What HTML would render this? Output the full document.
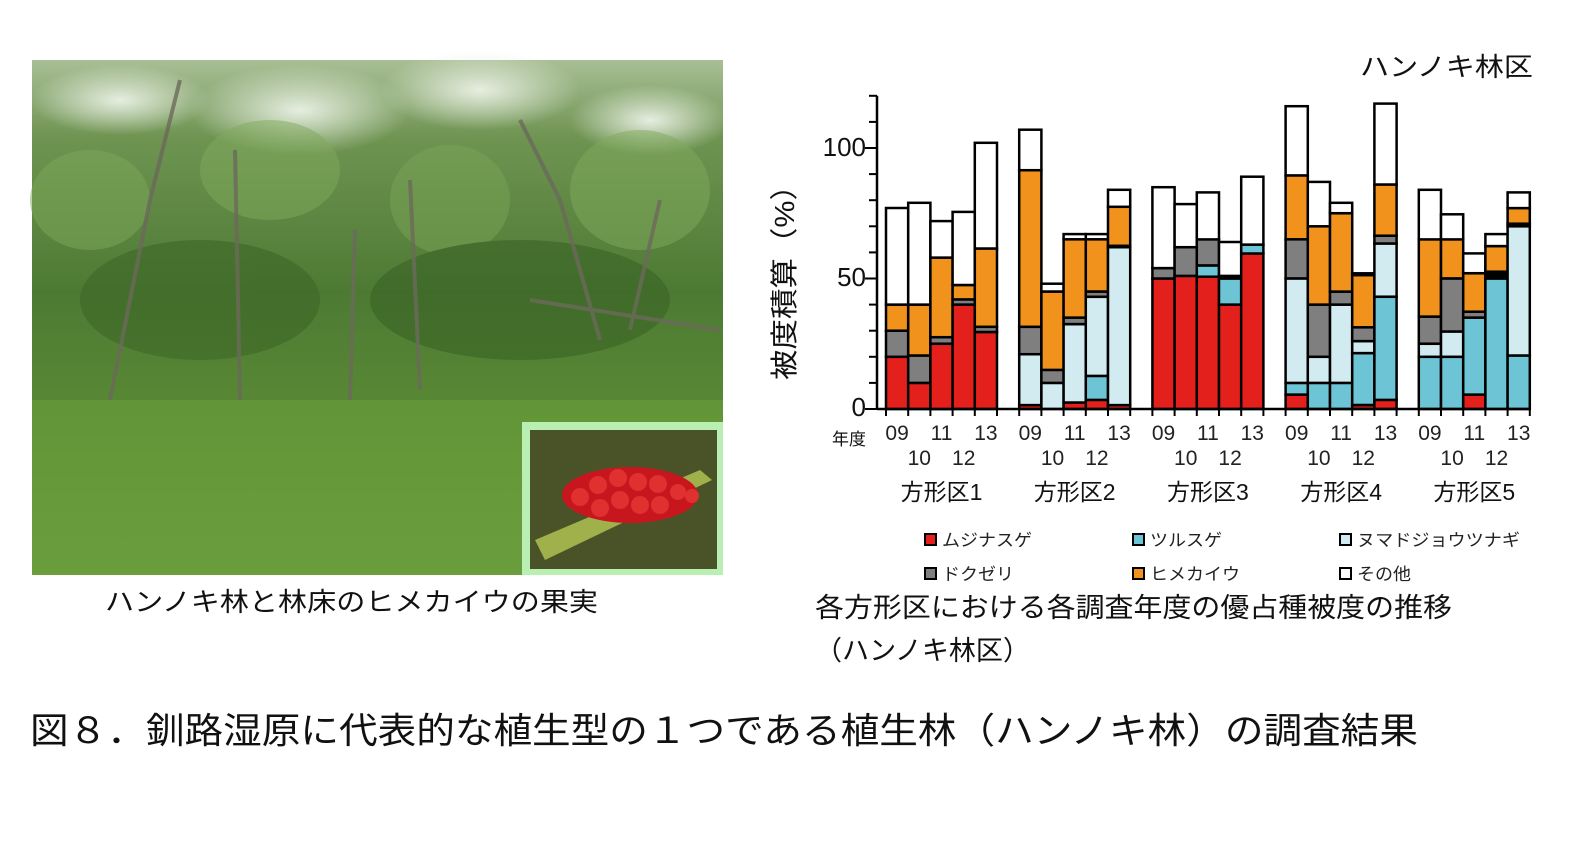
<!DOCTYPE html>
<html><head><meta charset="utf-8">
<style>
body{margin:0;background:#fff;width:1579px;height:856px;overflow:hidden;font-family:"Liberation Sans","Noto Sans CJK JP",sans-serif;}
svg{position:absolute;left:0;top:0}
</style></head>
<body>
<svg id="s" width="1579" height="856" xmlns="http://www.w3.org/2000/svg" font-family="Liberation Sans, Noto Sans CJK JP, sans-serif">
<defs>
<linearGradient id="pg" x1="0" y1="0" x2="0" y2="1">
<stop offset="0" stop-color="#a9bf96"/><stop offset="0.15" stop-color="#6f9452"/><stop offset="0.45" stop-color="#4d7a33"/><stop offset="0.7" stop-color="#5a8a35"/><stop offset="1" stop-color="#6a9a40"/>
</linearGradient>
<radialGradient id="sky" cx="0.5" cy="0.5" r="0.5"><stop offset="0" stop-color="#e6eee0"/><stop offset="1" stop-color="#e6eee0" stop-opacity="0"/></radialGradient>
</defs>
<rect x="32" y="60" width="691" height="515" fill="url(#pg)"/>
<ellipse cx="120" cy="100" rx="90" ry="35" fill="url(#sky)"/>
<ellipse cx="300" cy="110" rx="110" ry="45" fill="url(#sky)"/>
<ellipse cx="480" cy="90" rx="100" ry="40" fill="url(#sky)"/>
<ellipse cx="650" cy="120" rx="80" ry="35" fill="url(#sky)"/>
<g opacity="0.5">
<ellipse cx="90" cy="200" rx="60" ry="50" fill="#7ea85a"/><ellipse cx="270" cy="170" rx="70" ry="50" fill="#80aa5c"/><ellipse cx="450" cy="200" rx="60" ry="55" fill="#7aa456"/><ellipse cx="640" cy="190" rx="70" ry="60" fill="#80aa5c"/>
<ellipse cx="200" cy="300" rx="120" ry="60" fill="#3a6224"/><ellipse cx="520" cy="300" rx="150" ry="60" fill="#365e22"/>
</g>
<g stroke="#6b6a5a" stroke-width="4" fill="none" opacity="0.8">
<path d="M110 400 L150 200 L180 80"/><path d="M240 400 L235 150"/><path d="M350 400 L355 230"/><path d="M420 390 L410 180"/><path d="M600 340 L560 200 L520 120"/><path d="M630 330 L660 200"/><path d="M530 300 L720 330"/>
</g>
<rect x="32" y="400" width="691" height="175" fill="#6aa23a" opacity="0.5"/>
<rect x="522" y="422" width="201" height="153" fill="#b9efb2"/>
<rect x="530" y="430" width="187" height="139" fill="#4a5328"/>
<path d="M535 540 L700 470 L712 480 L545 560Z" fill="#a0b04a"/>
<ellipse cx="630" cy="495" rx="68" ry="28" fill="#c8161e"/>
<g fill="#e03030">
<circle cx="580" cy="497" r="9"/><circle cx="598" cy="485" r="9"/><circle cx="600" cy="508" r="9"/><circle cx="618" cy="478" r="9"/><circle cx="620" cy="500" r="9"/><circle cx="638" cy="482" r="9"/><circle cx="640" cy="505" r="9"/><circle cx="658" cy="484" r="9"/><circle cx="660" cy="505" r="9"/><circle cx="678" cy="492" r="8"/><circle cx="692" cy="496" r="7"/>
</g>
<g id="chart"></g>
<g font-size="26" fill="#111">
<text x="1360" y="76" font-size="26" textLength="173" lengthAdjust="spacingAndGlyphs">ハンノキ林区</text>
<text x="866" y="156" text-anchor="end">100</text>
<text x="866" y="286" text-anchor="end">50</text>
<text x="866" y="416" text-anchor="end">0</text>
<text transform="translate(794,275) rotate(-90)" text-anchor="middle" font-size="28" textLength="210" lengthAdjust="spacingAndGlyphs">被度積算（%）</text>
<text x="105" y="611" textLength="493" lengthAdjust="spacingAndGlyphs">ハンノキ林と林床のヒメカイウの果実</text>
<text x="815" y="617" font-size="27" textLength="637" lengthAdjust="spacingAndGlyphs">各方形区における各調査年度の優占種被度の推移</text>
<text x="815" y="660" font-size="27" textLength="215" lengthAdjust="spacingAndGlyphs">（ハンノキ林区）</text>
<text x="30" y="743" font-size="36" textLength="1388" lengthAdjust="spacingAndGlyphs">図８．釧路湿原に代表的な植生型の１つである植生林（ハンノキ林）の調査結果</text>
<text x="832" y="445" font-size="17">年度</text>
</g>
<g font-size="17" fill="#222">
<rect x="925" y="534" width="11" height="11" fill="#e3201b" stroke="#000" stroke-width="2"/><text x="942" y="546" textLength="90" lengthAdjust="spacingAndGlyphs">ムジナスゲ</text>
<rect x="1133" y="534" width="11" height="11" fill="#6cc4d4" stroke="#000" stroke-width="2"/><text x="1150" y="546" textLength="72" lengthAdjust="spacingAndGlyphs">ツルスゲ</text>
<rect x="1340" y="534" width="11" height="11" fill="#d2ebf0" stroke="#000" stroke-width="2"/><text x="1357" y="546" textLength="163" lengthAdjust="spacingAndGlyphs">ヌマドジョウツナギ</text>
<rect x="925" y="568" width="11" height="11" fill="#7f7f7f" stroke="#000" stroke-width="2"/><text x="942" y="580" textLength="72" lengthAdjust="spacingAndGlyphs">ドクゼリ</text>
<rect x="1133" y="568" width="11" height="11" fill="#f0921c" stroke="#000" stroke-width="2"/><text x="1150" y="580" textLength="90" lengthAdjust="spacingAndGlyphs">ヒメカイウ</text>
<rect x="1340" y="568" width="11" height="11" fill="#fff" stroke="#000" stroke-width="2"/><text x="1357" y="580" textLength="54" lengthAdjust="spacingAndGlyphs">その他</text>
</g>
</svg>
<script>
const C={r:"#e3201b",t:"#6cc4d4",l:"#d2ebf0",g:"#7f7f7f",o:"#f0921c",w:"#ffffff",k:"#000"};
const D=[
[[["r",20],["g",30],["o",40],["w",77]],[["r",10],["g",20.5],["o",40],["w",79]],[["r",25],["g",27.5],["o",58],["w",72]],[["r",40],["g",42],["o",47.5],["w",75.5]],[["r",29.5],["g",31.5],["o",61.5],["w",102]]],
[[["r",1.5],["l",21],["g",31.5],["o",91.5],["w",107]],[["l",10],["g",15],["o",45],["w",48]],[["r",2.5],["l",32.5],["g",35],["o",65],["w",67]],[["r",3.5],["t",12.7],["l",43],["g",45],["o",65],["w",67]],[["r",1.5],["l",62],["k",62.5],["o",77.5],["w",84]]],
[[["r",50],["g",54],["w",85]],[["r",51],["g",62],["w",78.5]],[["r",50.7],["t",55],["g",65],["w",83]],[["r",40],["t",50],["k",51],["w",64]],[["r",59.6],["t",63],["w",89]]],
[[["r",5.5],["t",10],["l",50],["g",65],["o",89.5],["w",116]],[["t",10],["l",20],["g",40],["o",70],["w",87]],[["t",10],["l",40],["g",45],["o",75],["w",79]],[["r",1.5],["t",21.4],["l",26],["g",31.3],["o",51.3],["w",52]],[["r",3.5],["t",43],["l",63.4],["g",66.4],["o",86],["w",117]]],
[[["t",20],["l",25],["g",35.4],["o",65],["w",84]],[["t",20],["l",29.7],["g",50],["o",65],["w",74.6]],[["r",5.5],["t",35],["g",37.3],["o",52],["w",59.6]],[["t",50],["k",52.6],["o",62.4],["w",67]],[["t",20.5],["l",70],["k",71],["o",77],["w",83]]]];
const y0=409,k=2.61,x0=886,sw=22.2;
let h="";const Y=v=>y0-v*k;
D.forEach((g,gi)=>g.forEach((b,bi)=>{const x=x0+(gi*6+bi)*sw;let p=0;b.forEach(([c,v])=>{h+=`<rect x="${x.toFixed(1)}" y="${Y(v).toFixed(1)}" width="${sw.toFixed(1)}" height="${((v-p)*k).toFixed(1)}" fill="${C[c]}" stroke="#000" stroke-width="2.5"/>`;p=v;});}));
h+=`<line x1="877" y1="${y0}" x2="1530" y2="${y0}" stroke="#000" stroke-width="2.5"/><line x1="877" y1="${Y(120)}" x2="877" y2="${y0}" stroke="#000" stroke-width="2.5"/>`;
for(let v=0;v<=120;v+=10){const w=v%50==0?12:8;h+=`<line x1="${877-w}" y1="${Y(v)}" x2="877" y2="${Y(v)}" stroke="#000" stroke-width="2"/>`;}
for(let i=0;i<=29;i++){const x=x0+i*sw;h+=`<line x1="${x}" y1="${y0}" x2="${x}" y2="${y0+7}" stroke="#000" stroke-width="2"/>`;}
const yrs=["09","10","11","12","13"];
for(let gi=0;gi<5;gi++){for(let bi=0;bi<5;bi++){const cx=x0+(gi*6+bi+0.5)*sw;h+=`<text x="${cx}" y="${bi%2?465:440}" text-anchor="middle" font-size="21" fill="#222">${yrs[bi]}</text>`;}
const cx=x0+(gi*6+2.5)*sw;h+=`<text x="${cx}" y="500" text-anchor="middle" font-size="23" fill="#111">方形区${gi+1}</text>`;}
document.getElementById("chart").innerHTML=h;
</script>
</body></html>
